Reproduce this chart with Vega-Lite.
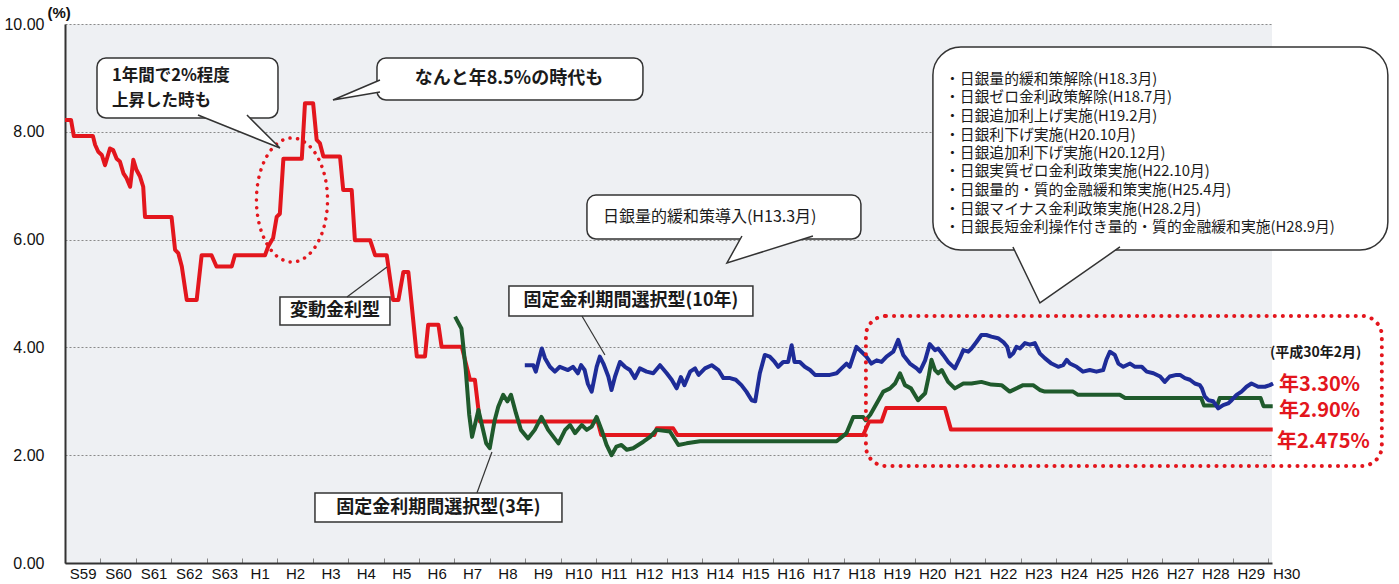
{
 "$schema": "https://vega.github.io/schema/vega-lite/v6.json",
 "width": 1207,
 "height": 539,
 "autosize": {"type": "none"},
 "padding": {"left": 65, "top": 24, "right": 127, "bottom": 21},
 "background": "#ffffff",
 "config": {"view": {"stroke": null, "fill": "#eef0f3"}, "font": "Noto Sans CJK JP"},
 "datasets": {
  "rates": [
   {"s":"変動金利型","t":1984.0,"v":8.22},{"s":"変動金利型","t":1984.17,"v":8.22},{"s":"変動金利型","t":1984.25,"v":7.92},{"s":"変動金利型","t":1984.79,"v":7.92},{"s":"変動金利型","t":1984.85,"v":7.76},{"s":"変動金利型","t":1984.94,"v":7.63},{"s":"変動金利型","t":1985.04,"v":7.57},{"s":"変動金利型","t":1985.13,"v":7.38},{"s":"変動金利型","t":1985.27,"v":7.69},{"s":"変動金利型","t":1985.36,"v":7.66},{"s":"変動金利型","t":1985.46,"v":7.5},{"s":"変動金利型","t":1985.55,"v":7.45},{"s":"変動金利型","t":1985.65,"v":7.23},{"s":"変動金利型","t":1985.74,"v":7.14},{"s":"変動金利型","t":1985.84,"v":6.98},{"s":"変動金利型","t":1985.93,"v":7.48},{"s":"変動金利型","t":1986.02,"v":7.29},{"s":"変動金利型","t":1986.12,"v":7.17},{"s":"変動金利型","t":1986.21,"v":6.98},{"s":"変動金利型","t":1986.26,"v":6.42},{"s":"変動金利型","t":1987.01,"v":6.42},{"s":"変動金利型","t":1987.11,"v":5.81},{"s":"変動金利型","t":1987.2,"v":5.75},{"s":"変動金利型","t":1987.3,"v":5.5},{"s":"変動金利型","t":1987.44,"v":4.88},{"s":"変動金利型","t":1987.72,"v":4.88},{"s":"変動金利型","t":1987.86,"v":5.71},{"s":"変動金利型","t":1988.14,"v":5.71},{"s":"変動金利型","t":1988.28,"v":5.5},{"s":"変動金利型","t":1988.71,"v":5.5},{"s":"変動金利型","t":1988.8,"v":5.71},{"s":"変動金利型","t":1989.65,"v":5.71},{"s":"変動金利型","t":1989.74,"v":5.87},{"s":"変動金利型","t":1989.88,"v":6.03},{"s":"変動金利型","t":1989.98,"v":6.42},{"s":"変動金利型","t":1990.07,"v":6.48},{"s":"変動金利型","t":1990.17,"v":7.5},{"s":"変動金利型","t":1990.69,"v":7.5},{"s":"変動金利型","t":1990.78,"v":8.53},{"s":"変動金利型","t":1991.01,"v":8.53},{"s":"変動金利型","t":1991.11,"v":7.85},{"s":"変動金利型","t":1991.2,"v":7.79},{"s":"変動金利型","t":1991.3,"v":7.54},{"s":"変動金利型","t":1991.77,"v":7.54},{"s":"変動金利型","t":1991.86,"v":6.92},{"s":"変動金利型","t":1992.1,"v":6.92},{"s":"変動金利型","t":1992.19,"v":5.99},{"s":"変動金利型","t":1992.62,"v":5.99},{"s":"変動金利型","t":1992.76,"v":5.71},{"s":"変動金利型","t":1993.09,"v":5.71},{"s":"変動金利型","t":1993.27,"v":4.88},{"s":"変動金利型","t":1993.42,"v":4.88},{"s":"変動金利型","t":1993.56,"v":5.4},{"s":"変動金利型","t":1993.7,"v":5.4},{"s":"変動金利型","t":1993.79,"v":4.82},{"s":"変動金利型","t":1993.94,"v":3.83},{"s":"変動金利型","t":1994.17,"v":3.83},{"s":"変動金利型","t":1994.26,"v":4.42},{"s":"変動金利型","t":1994.55,"v":4.42},{"s":"変動金利型","t":1994.64,"v":4.01},{"s":"変動金利型","t":1995.21,"v":4.01},{"s":"変動金利型","t":1995.44,"v":3.4},{"s":"変動金利型","t":1995.58,"v":3.4},{"s":"変動金利型","t":1995.72,"v":2.625},{"s":"変動金利型","t":1999.05,"v":2.625},{"s":"変動金利型","t":1999.15,"v":2.375},{"s":"変動金利型","t":2000.65,"v":2.375},{"s":"変動金利型","t":2000.72,"v":2.5},{"s":"変動金利型","t":2001.18,"v":2.5},{"s":"変動金利型","t":2001.3,"v":2.375},{"s":"変動金利型","t":2006.55,"v":2.375},{"s":"変動金利型","t":2006.72,"v":2.625},{"s":"変動金利型","t":2007.07,"v":2.625},{"s":"変動金利型","t":2007.2,"v":2.875},{"s":"変動金利型","t":2008.86,"v":2.875},{"s":"変動金利型","t":2009.03,"v":2.475},{"s":"変動金利型","t":2018.12,"v":2.475},
   {"s":"固定3年","t":1995.02,"v":4.57},{"s":"固定3年","t":1995.2,"v":4.35},{"s":"固定3年","t":1995.32,"v":3.6},{"s":"固定3年","t":1995.42,"v":2.75},{"s":"固定3年","t":1995.5,"v":2.34},{"s":"固定3年","t":1995.68,"v":2.84},{"s":"固定3年","t":1995.8,"v":2.5},{"s":"固定3年","t":1995.9,"v":2.22},{"s":"固定3年","t":1996.0,"v":2.13},{"s":"固定3年","t":1996.14,"v":2.65},{"s":"固定3年","t":1996.24,"v":2.9},{"s":"固定3年","t":1996.38,"v":3.12},{"s":"固定3年","t":1996.5,"v":3.0},{"s":"固定3年","t":1996.6,"v":3.12},{"s":"固定3年","t":1996.74,"v":2.78},{"s":"固定3年","t":1996.88,"v":2.47},{"s":"固定3年","t":1997.08,"v":2.31},{"s":"固定3年","t":1997.27,"v":2.47},{"s":"固定3年","t":1997.46,"v":2.71},{"s":"固定3年","t":1997.65,"v":2.47},{"s":"固定3年","t":1997.94,"v":2.22},{"s":"固定3年","t":1998.13,"v":2.47},{"s":"固定3年","t":1998.27,"v":2.56},{"s":"固定3年","t":1998.41,"v":2.41},{"s":"固定3年","t":1998.6,"v":2.56},{"s":"固定3年","t":1998.74,"v":2.47},{"s":"固定3年","t":1998.88,"v":2.53},{"s":"固定3年","t":1999.02,"v":2.71},{"s":"固定3年","t":1999.16,"v":2.47},{"s":"固定3年","t":1999.3,"v":2.19},{"s":"固定3年","t":1999.44,"v":2.0},{"s":"固定3年","t":1999.58,"v":2.16},{"s":"固定3年","t":1999.72,"v":2.19},{"s":"固定3年","t":1999.87,"v":2.1},{"s":"固定3年","t":2000.05,"v":2.13},{"s":"固定3年","t":2000.34,"v":2.25},{"s":"固定3年","t":2000.53,"v":2.34},{"s":"固定3年","t":2000.71,"v":2.47},{"s":"固定3年","t":2001.09,"v":2.44},{"s":"固定3年","t":2001.33,"v":2.19},{"s":"固定3年","t":2001.56,"v":2.22},{"s":"固定3年","t":2001.94,"v":2.26},{"s":"固定3年","t":2005.8,"v":2.26},{"s":"固定3年","t":2006.08,"v":2.41},{"s":"固定3年","t":2006.27,"v":2.71},{"s":"固定3年","t":2006.55,"v":2.71},{"s":"固定3年","t":2006.62,"v":2.65},{"s":"固定3年","t":2006.75,"v":2.75},{"s":"固定3年","t":2006.93,"v":2.96},{"s":"固定3年","t":2007.12,"v":3.18},{"s":"固定3年","t":2007.31,"v":3.24},{"s":"固定3年","t":2007.45,"v":3.33},{"s":"固定3年","t":2007.59,"v":3.52},{"s":"固定3年","t":2007.73,"v":3.3},{"s":"固定3年","t":2007.9,"v":3.24},{"s":"固定3年","t":2008.1,"v":3.02},{"s":"固定3年","t":2008.3,"v":3.15},{"s":"固定3年","t":2008.4,"v":3.46},{"s":"固定3年","t":2008.48,"v":3.77},{"s":"固定3年","t":2008.58,"v":3.58},{"s":"固定3年","t":2008.67,"v":3.52},{"s":"固定3年","t":2008.77,"v":3.58},{"s":"固定3年","t":2008.95,"v":3.36},{"s":"固定3年","t":2009.14,"v":3.24},{"s":"固定3年","t":2009.38,"v":3.33},{"s":"固定3年","t":2009.61,"v":3.33},{"s":"固定3年","t":2009.89,"v":3.36},{"s":"固定3年","t":2010.17,"v":3.31},{"s":"固定3年","t":2010.46,"v":3.3},{"s":"固定3年","t":2010.69,"v":3.18},{"s":"固定3年","t":2010.88,"v":3.24},{"s":"固定3年","t":2011.07,"v":3.3},{"s":"固定3年","t":2011.35,"v":3.3},{"s":"固定3年","t":2011.54,"v":3.21},{"s":"固定3年","t":2011.68,"v":3.18},{"s":"固定3年","t":2012.48,"v":3.18},{"s":"固定3年","t":2012.62,"v":3.12},{"s":"固定3年","t":2013.8,"v":3.12},{"s":"固定3年","t":2013.95,"v":3.06},{"s":"固定3年","t":2016.1,"v":3.06},{"s":"固定3年","t":2016.18,"v":2.92},{"s":"固定3年","t":2016.55,"v":2.92},{"s":"固定3年","t":2016.62,"v":3.06},{"s":"固定3年","t":2017.78,"v":3.06},{"s":"固定3年","t":2017.86,"v":2.91},{"s":"固定3年","t":2018.12,"v":2.91},
   {"s":"固定10年","t":1996.99,"v":3.67},{"s":"固定10年","t":1997.23,"v":3.67},{"s":"固定10年","t":1997.3,"v":3.55},{"s":"固定10年","t":1997.47,"v":3.98},{"s":"固定10年","t":1997.56,"v":3.8},{"s":"固定10年","t":1997.7,"v":3.64},{"s":"固定10年","t":1997.84,"v":3.55},{"s":"固定10年","t":1997.98,"v":3.64},{"s":"固定10年","t":1998.21,"v":3.58},{"s":"固定10年","t":1998.35,"v":3.64},{"s":"固定10年","t":1998.49,"v":3.52},{"s":"固定10年","t":1998.58,"v":3.67},{"s":"固定10年","t":1998.68,"v":3.58},{"s":"固定10年","t":1998.77,"v":3.33},{"s":"固定10年","t":1998.88,"v":3.18},{"s":"固定10年","t":1999.02,"v":3.64},{"s":"固定10年","t":1999.11,"v":3.83},{"s":"固定10年","t":1999.21,"v":3.7},{"s":"固定10年","t":1999.35,"v":3.46},{"s":"固定10年","t":1999.44,"v":3.21},{"s":"固定10年","t":1999.54,"v":3.46},{"s":"固定10年","t":1999.68,"v":3.73},{"s":"固定10年","t":1999.82,"v":3.64},{"s":"固定10年","t":1999.96,"v":3.58},{"s":"固定10年","t":2000.1,"v":3.43},{"s":"固定10年","t":2000.24,"v":3.61},{"s":"固定10年","t":2000.43,"v":3.55},{"s":"固定10年","t":2000.62,"v":3.52},{"s":"固定10年","t":2000.81,"v":3.67},{"s":"固定10年","t":2001.0,"v":3.52},{"s":"固定10年","t":2001.14,"v":3.4},{"s":"固定10年","t":2001.28,"v":3.24},{"s":"固定10年","t":2001.4,"v":3.45},{"s":"固定10年","t":2001.5,"v":3.3},{"s":"固定10年","t":2001.66,"v":3.55},{"s":"固定10年","t":2001.8,"v":3.61},{"s":"固定10年","t":2001.9,"v":3.49},{"s":"固定10年","t":2002.08,"v":3.61},{"s":"固定10年","t":2002.27,"v":3.67},{"s":"固定10年","t":2002.46,"v":3.58},{"s":"固定10年","t":2002.6,"v":3.43},{"s":"固定10年","t":2002.79,"v":3.43},{"s":"固定10年","t":2002.95,"v":3.4},{"s":"固定10年","t":2003.11,"v":3.3},{"s":"固定10年","t":2003.25,"v":3.18},{"s":"固定10年","t":2003.4,"v":3.02},{"s":"固定10年","t":2003.5,"v":3.0},{"s":"固定10年","t":2003.63,"v":3.52},{"s":"固定10年","t":2003.77,"v":3.86},{"s":"固定10年","t":2003.91,"v":3.83},{"s":"固定10年","t":2004.05,"v":3.73},{"s":"固定10年","t":2004.15,"v":3.64},{"s":"固定10年","t":2004.29,"v":3.73},{"s":"固定10年","t":2004.43,"v":3.73},{"s":"固定10年","t":2004.53,"v":4.04},{"s":"固定10年","t":2004.61,"v":3.73},{"s":"固定10年","t":2004.76,"v":3.73},{"s":"固定10年","t":2004.9,"v":3.64},{"s":"固定10年","t":2005.05,"v":3.58},{"s":"固定10年","t":2005.19,"v":3.49},{"s":"固定10年","t":2005.61,"v":3.49},{"s":"固定10年","t":2005.8,"v":3.52},{"s":"固定10年","t":2005.94,"v":3.61},{"s":"固定10年","t":2006.08,"v":3.7},{"s":"固定10年","t":2006.17,"v":3.64},{"s":"固定10年","t":2006.36,"v":4.01},{"s":"固定10年","t":2006.5,"v":3.92},{"s":"固定10年","t":2006.64,"v":3.83},{"s":"固定10年","t":2006.78,"v":3.7},{"s":"固定10年","t":2006.93,"v":3.76},{"s":"固定10年","t":2007.07,"v":3.73},{"s":"固定10年","t":2007.21,"v":3.83},{"s":"固定10年","t":2007.4,"v":3.92},{"s":"固定10年","t":2007.54,"v":4.14},{"s":"固定10年","t":2007.68,"v":3.86},{"s":"固定10年","t":2007.87,"v":3.7},{"s":"固定10年","t":2008.06,"v":3.61},{"s":"固定10年","t":2008.15,"v":3.55},{"s":"固定10年","t":2008.3,"v":3.76},{"s":"固定10年","t":2008.43,"v":4.06},{"s":"固定10年","t":2008.58,"v":3.95},{"s":"固定10年","t":2008.67,"v":3.98},{"s":"固定10年","t":2008.81,"v":3.86},{"s":"固定10年","t":2008.95,"v":3.73},{"s":"固定10年","t":2009.14,"v":3.61},{"s":"固定10年","t":2009.28,"v":3.8},{"s":"固定10年","t":2009.38,"v":3.95},{"s":"固定10年","t":2009.52,"v":3.92},{"s":"固定10年","t":2009.61,"v":3.98},{"s":"固定10年","t":2009.75,"v":4.1},{"s":"固定10年","t":2009.89,"v":4.23},{"s":"固定10年","t":2010.03,"v":4.23},{"s":"固定10年","t":2010.17,"v":4.2},{"s":"固定10年","t":2010.36,"v":4.17},{"s":"固定10年","t":2010.51,"v":4.1},{"s":"固定10年","t":2010.62,"v":4.01},{"s":"固定10年","t":2010.69,"v":3.83},{"s":"固定10年","t":2010.79,"v":3.89},{"s":"固定10年","t":2010.88,"v":4.01},{"s":"固定10年","t":2010.98,"v":3.98},{"s":"固定10年","t":2011.12,"v":4.08},{"s":"固定10年","t":2011.26,"v":4.05},{"s":"固定10年","t":2011.4,"v":4.08},{"s":"固定10年","t":2011.54,"v":3.89},{"s":"固定10年","t":2011.68,"v":3.8},{"s":"固定10年","t":2011.87,"v":3.7},{"s":"固定10年","t":2012.06,"v":3.64},{"s":"固定10年","t":2012.2,"v":3.67},{"s":"固定10年","t":2012.3,"v":3.77},{"s":"固定10年","t":2012.39,"v":3.7},{"s":"固定10年","t":2012.58,"v":3.64},{"s":"固定10年","t":2012.76,"v":3.55},{"s":"固定10年","t":2012.95,"v":3.58},{"s":"固定10年","t":2013.14,"v":3.55},{"s":"固定10年","t":2013.33,"v":3.58},{"s":"固定10年","t":2013.42,"v":3.77},{"s":"固定10年","t":2013.52,"v":3.92},{"s":"固定10年","t":2013.66,"v":3.86},{"s":"固定10年","t":2013.76,"v":3.7},{"s":"固定10年","t":2013.9,"v":3.64},{"s":"固定10年","t":2014.09,"v":3.7},{"s":"固定10年","t":2014.23,"v":3.64},{"s":"固定10年","t":2014.42,"v":3.64},{"s":"固定10年","t":2014.56,"v":3.55},{"s":"固定10年","t":2014.75,"v":3.52},{"s":"固定10年","t":2014.94,"v":3.46},{"s":"固定10年","t":2015.07,"v":3.36},{"s":"固定10年","t":2015.21,"v":3.46},{"s":"固定10年","t":2015.4,"v":3.49},{"s":"固定10年","t":2015.5,"v":3.49},{"s":"固定10年","t":2015.64,"v":3.43},{"s":"固定10年","t":2015.78,"v":3.4},{"s":"固定10年","t":2015.92,"v":3.33},{"s":"固定10年","t":2016.06,"v":3.3},{"s":"固定10年","t":2016.12,"v":3.24},{"s":"固定10年","t":2016.2,"v":3.09},{"s":"固定10年","t":2016.3,"v":3.02},{"s":"固定10年","t":2016.44,"v":3.0},{"s":"固定10年","t":2016.58,"v":2.87},{"s":"固定10年","t":2016.72,"v":2.93},{"s":"固定10年","t":2016.86,"v":2.96},{"s":"固定10年","t":2016.96,"v":3.02},{"s":"固定10年","t":2017.1,"v":3.12},{"s":"固定10年","t":2017.24,"v":3.18},{"s":"固定10年","t":2017.38,"v":3.27},{"s":"固定10年","t":2017.52,"v":3.33},{"s":"固定10年","t":2017.71,"v":3.27},{"s":"固定10年","t":2017.9,"v":3.27},{"s":"固定10年","t":2018.04,"v":3.3},{"s":"固定10年","t":2018.13,"v":3.33}
  ],
  "callouts": [
   {"id":"A","t":1984.904,"t2":1990.017,"v":9.369,"v2":8.256},
   {"id":"B","t":1992.814,"t2":2000.328,"v":9.369,"v2":8.59},
   {"id":"C","t":1998.746,"t2":2006.486,"v":6.827,"v2":6.011}
  ],
  "bigCallout": [
   {"id":"D","t":2008.52,"t2":2021.373,"v":9.573,"v2":5.807}
  ],
  "tails": [
   {"id":"A","t":1990.073,"v":7.699},
   {"id":"B","t":1991.571,"v":8.59},
   {"id":"C","t":2002.701,"v":5.566},
   {"id":"D","t":2011.544,"v":4.824}
  ],
  "labelBoxes": [
   {"id":"変動金利型","t":1990.073,"t2":1993.181,"v":4.935,"v2":4.416},
   {"id":"固定金利期間選択型(10年)","t":1996.542,"t2":2003.435,"v":5.139,"v2":4.583},
   {"id":"固定金利期間選択型(3年)","t":1991.062,"t2":1998.04,"v":1.299,"v2":0.761}
  ],
  "pointers": [
   {"id":"変動金利型","t":1991.966,"v":4.935,"t2":1993.096,"v2":5.492},
   {"id":"固定金利期間選択型(10年)","t":1998.605,"v":4.583,"t2":1999.254,"v2":3.859},
   {"id":"固定金利期間選択型(3年)","t":1995.638,"v":1.299,"t2":1996.062,"v2":2.059}
  ],
  "ellipse": [{"t":1990.413,"v":6.735}],
  "recent": [{"t":2006.627,"t2":2021.203,"v":4.583,"v2":1.8}],
  "calloutTextLeft": [
   {"txt":"1年間で2%程度","t":1985.328,"v":9.035},
   {"txt":"上昇した時も","t":1985.328,"v":8.571}
  ],
  "boldCenter": [
   {"txt":"なんと年8.5%の時代も","t":1996.542,"v":8.98},
   {"txt":"変動金利型","t":1991.627,"v":4.675},
   {"txt":"固定金利期間選択型(10年)","t":1999.989,"v":4.861},
   {"txt":"固定金利期間選択型(3年)","t":1994.551,"v":1.02}
  ],
  "qe": [{"txt":"日銀量的緩和策導入(H13.3月)","t":1999.198,"v":6.419}],
  "events": [
   {"txt":"・日銀量的緩和策解除(H18.3月)","t":2008.86,"v":8.961},
   {"txt":"・日銀ゼロ金利政策解除(H18.7月)","t":2008.86,"v":8.618},
   {"txt":"・日銀追加利上げ実施(H19.2月)","t":2008.86,"v":8.275},
   {"txt":"・日銀利下げ実施(H20.10月)","t":2008.86,"v":7.931},
   {"txt":"・日銀追加利下げ実施(H20.12月)","t":2008.86,"v":7.588},
   {"txt":"・日銀実質ゼロ金利政策実施(H22.10月)","t":2008.86,"v":7.245},
   {"txt":"・日銀量的・質的金融緩和策実施(H25.4月)","t":2008.86,"v":6.902},
   {"txt":"・日銀マイナス金利政策実施(H28.2月)","t":2008.86,"v":6.558},
   {"txt":"・日銀長短金利操作付き量的・質的金融緩和実施(H28.9月)","t":2008.86,"v":6.215}
  ],
  "asOf": [{"txt":"(平成30年2月)","t":2018.041,"v":3.896}],
  "latest": [
   {"txt":"年3.30%","t":2018.295,"v":3.302},
   {"txt":"年2.90%","t":2018.295,"v":2.811},
   {"txt":"年2.475%","t":2018.239,"v":2.254}
  ]
 },
 "encoding": {
  "x": {"field": "t", "type": "quantitative",
   "scale": {"domain": [1984, 2018.1], "nice": false, "zero": false},
   "axis": {"title": null, "values": [1984,1985,1986,1987,1988,1989,1990,1991,1992,1993,1994,1995,1996,1997,1998,1999,2000,2001,2002,2003,2004,2005,2006,2007,2008,2009,2010,2011,2012,2013,2014,2015,2016,2017,2018],
    "labelExpr": "datum.value < 1989 ? 'S' + (datum.value - 1925) : 'H' + (datum.value - 1988)",
    "labelOffset": 17.7, "grid": false, "ticks": true, "tickSize": -5, "tickColor": "#888", "tickWidth": 1,
    "domainColor": "#333", "domainWidth": 2, "labelFont": "Liberation Sans", "labelFontSize": 15, "labelColor": "#111",
    "labelPadding": 8, "labelFlush": false, "labelOverlap": false, "labelBound": false}},
  "y": {"field": "v", "type": "quantitative",
   "scale": {"domain": [0, 10], "nice": false, "zero": false},
   "axis": {"title": "(%)", "titleAngle": 0, "titleX": -18, "titleY": -4, "titleAlign": "left", "titleBaseline": "bottom",
    "titleFont": "Liberation Sans", "titleFontSize": 15, "titleFontWeight": "bold", "titleColor": "#111",
    "values": [0, 2, 4, 6, 8, 10], "format": ".2f", "ticks": false, "tickSize": 0, "labelPadding": 21,
    "labelFont": "Liberation Sans", "labelFontSize": 16, "labelColor": "#111", "labelBaseline": "middle",
    "domainColor": "#333", "domainWidth": 2, "grid": true, "gridColor": "#8a8a8a", "gridDash": [2, 2], "gridWidth": 1.2}}
 },
 "layer": [
  {"data": {"name": "rates"}, "transform": [{"filter": "datum.s === '変動金利型'"}],
   "mark": {"type": "line", "color": "#e3161d", "strokeWidth": 4, "strokeJoin": "round"}},
  {"data": {"name": "rates"}, "transform": [{"filter": "datum.s === '固定3年'"}],
   "mark": {"type": "line", "color": "#1f5a2c", "strokeWidth": 4, "strokeJoin": "round"}},
  {"data": {"name": "rates"}, "transform": [{"filter": "datum.s === '固定10年'"}],
   "mark": {"type": "line", "color": "#1e2c98", "strokeWidth": 4, "strokeJoin": "round"}},
  {"data": {"name": "ellipse"},
   "mark": {"type": "point", "shape": "M-0.573,0A0.573,1 0 1,0 0.573,0A0.573,1 0 1,0 -0.573,0Z", "size": 15376,
    "filled": false, "fill": null, "stroke": "#e3161d", "strokeWidth": 3.5, "strokeDash": [0.1, 7.5], "strokeCap": "round", "opacity": 1}},
  {"data": {"name": "recent"},
   "mark": {"type": "rect", "fill": "transparent", "stroke": "#e3161d", "strokeWidth": 4, "strokeDash": [0.1, 8], "strokeCap": "round", "cornerRadius": 20},
   "encoding": {"x2": {"field": "t2"}, "y2": {"field": "v2"}}},
  {"data": {"name": "callouts"},
   "mark": {"type": "rect", "fill": "#ffffff", "stroke": "#333333", "strokeWidth": 1.5, "cornerRadius": 9},
   "encoding": {"x2": {"field": "t2"}, "y2": {"field": "v2"}}},
  {"data": {"name": "bigCallout"},
   "mark": {"type": "rect", "fill": "#ffffff", "stroke": "#333333", "strokeWidth": 1.5, "cornerRadius": 28},
   "encoding": {"x2": {"field": "t2"}, "y2": {"field": "v2"}}},
  {"data": {"name": "tails"},
   "mark": {"type": "point", "size": 10000, "filled": true, "fill": "#ffffff", "stroke": "#333333", "strokeWidth": 1.5, "opacity": 1, "strokeJoin": "miter"},
   "encoding": {"shape": {"field": "id", "type": "nominal", "legend": null,
    "scale": {"domain": ["A", "B", "C", "D"], "range": ["M-1.64,-0.66L0,0L-0.66,-0.66", "M0.94,-0.4L0,0L0.94,-0.16", "M0.3,-0.54L0,0L1.72,-0.54", "M-0.54,-1.12L0,0L1.6,-1.12"]}}}},
  {"data": {"name": "labelBoxes"},
   "mark": {"type": "rect", "fill": "#ffffff", "stroke": "#333333", "strokeWidth": 1.5},
   "encoding": {"x2": {"field": "t2"}, "y2": {"field": "v2"}}},
  {"data": {"name": "pointers"},
   "mark": {"type": "rule", "color": "#333333", "strokeWidth": 1.2},
   "encoding": {"x2": {"field": "t2"}, "y2": {"field": "v2"}}},
  {"data": {"name": "calloutTextLeft"},
   "mark": {"type": "text", "align": "left", "baseline": "middle", "fontSize": 16.5, "fontWeight": "bold", "color": "#1a1a1a", "font": "Noto Sans CJK JP"},
   "encoding": {"text": {"field": "txt"}}},
  {"data": {"name": "boldCenter"},
   "mark": {"type": "text", "align": "center", "baseline": "middle", "fontSize": 18, "fontWeight": "bold", "color": "#1a1a1a", "font": "Noto Sans CJK JP"},
   "encoding": {"text": {"field": "txt"}}},
  {"data": {"name": "qe"},
   "mark": {"type": "text", "align": "left", "baseline": "middle", "fontSize": 16, "color": "#1a1a1a", "font": "Noto Sans CJK JP"},
   "encoding": {"text": {"field": "txt"}}},
  {"data": {"name": "events"},
   "mark": {"type": "text", "align": "left", "baseline": "middle", "fontSize": 14.8, "color": "#1a1a1a", "font": "Noto Sans CJK JP"},
   "encoding": {"text": {"field": "txt"}}},
  {"data": {"name": "asOf"},
   "mark": {"type": "text", "align": "left", "baseline": "middle", "fontSize": 14, "fontWeight": "bold", "color": "#1a1a1a", "font": "Noto Sans CJK JP"},
   "encoding": {"text": {"field": "txt"}}},
  {"data": {"name": "latest"},
   "mark": {"type": "text", "align": "left", "baseline": "middle", "fontSize": 20, "fontWeight": "bold", "color": "#e3161d", "font": "Noto Sans CJK JP"},
   "encoding": {"text": {"field": "txt"}}}
 ]
}
